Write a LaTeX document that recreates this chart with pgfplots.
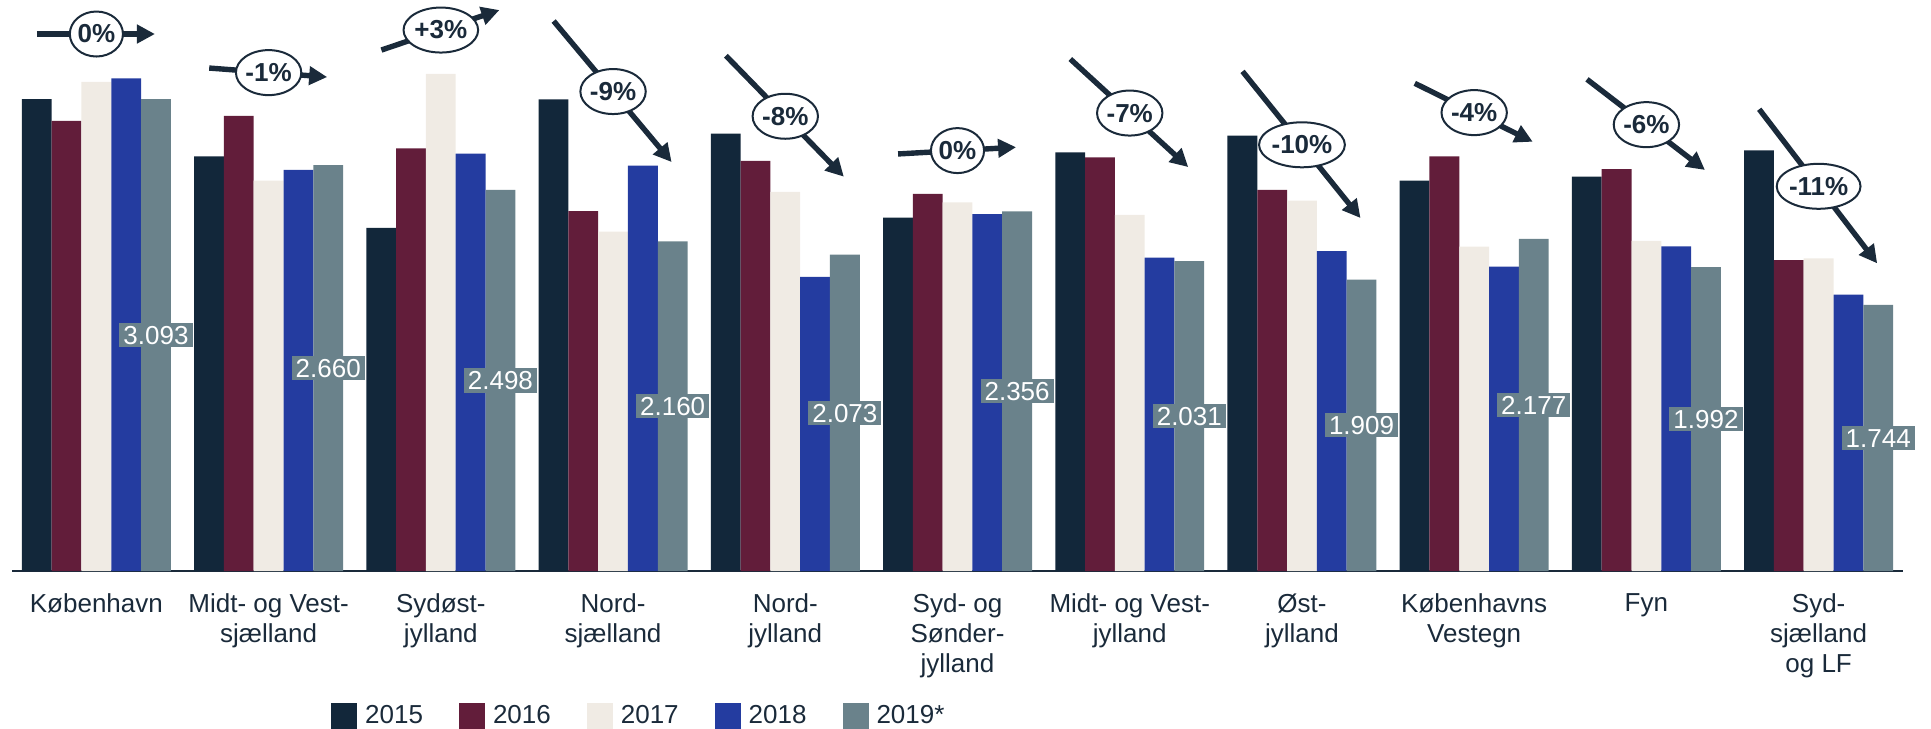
\documentclass[border=0pt]{standalone}
\usepackage{fontspec}
\setmainfont{Liberation Sans}
\usepackage{pgfplots}
\pgfplotsset{compat=1.18}
\usepackage{pgfplotstable}
\usetikzlibrary{arrows.meta,shapes.geometric}

\definecolor{c15}{HTML}{12273A}
\definecolor{c16}{HTML}{621D3A}
\definecolor{c17}{HTML}{F0EBE4}
\definecolor{c18}{HTML}{243CA0}
\definecolor{c19}{HTML}{6A828B}
\definecolor{txt}{HTML}{1A2A3A}

\pgfplotstableread{
x a b c d e
0 3093 2949 3206 3229 3093
1 2717 2982 2558 2628 2660
2 2248 2770 3257 2735 2498
3 3091 2359 2224 2656 2160
4 2866 2687 2484 1927 2073
5 2315 2471 2416 2339 2356
6 2744 2711 2333 2053 2031
7 2853 2497 2427 2097 1909
8 2558 2717 2125 1994 2177
9 2584 2634 2163 2128 1992
10 2757 2038 2049 1811 1744
}\data

\tikzset{
  trend/.style={draw=txt, line width=2.7pt, -{Triangle[length=9pt,width=9pt]}},
  pct/.style={ellipse, draw=txt, line width=1pt, fill=white, inner sep=0pt,
    minimum height=22.5pt, text=txt, font=\bfseries\fontsize{13}{15}\selectfont}
}

\begin{document}
\begin{tikzpicture}[font=\fontsize{13}{15}\selectfont]
\path[use as bounding box] (0,0) rectangle (965.5pt,364pt);
\begin{axis}[
  at={(6pt,78.5pt)}, anchor=south west,
  scale only axis, width=945.5pt, height=285.5pt,
  xmin=-0.49, xmax=10.49, ymin=0, ymax=3742,
  ybar=0pt, bar width=0.173,
  axis x line*=bottom, axis y line=none,
  axis line style={txt, line width=1pt, -},
  xtick={0,...,10},
  xticklabels={K{\o}benhavn, {Midt- og Vest-\\sj{\ae}lland}, {Syd{\o}st-\\jylland},
    {Nord-\\sj{\ae}lland}, {Nord-\\jylland}, {Syd- og\\S{\o}nder-\\jylland},
    {Midt- og Vest-\\jylland}, {{\O}st-\\jylland}, {K{\o}benhavns\\Vestegn}, Fyn,
    {Syd-\\sj{\ae}lland\\og LF}},
  xticklabel style={align=center, text=txt, anchor=north, yshift=-8pt,
    font=\fontsize{13}{15}\selectfont},
  major tick length=0pt,
  ytick=\empty,
  clip=false,
  legend columns=5,
  legend style={draw=none, fill=none, at={(0.332,-0.254)}, anchor=center,
    font=\fontsize{13}{16}\selectfont, text=txt, inner sep=0pt,
    /tikz/every even column/.append style={column sep=16pt},
    /tikz/every odd column/.append style={column sep=2pt}},
  legend image code/.code={\fill[#1] (0pt,-6.75pt) rectangle (13pt,6.75pt);},
]
\addplot[fill=c15, draw=none, bar shift=-0.346] table[x=x,y=a]{\data};
\addplot[fill=c16, draw=none, bar shift=-0.173] table[x=x,y=b]{\data};
\addplot[fill=c17, draw=none, bar shift=0] table[x=x,y=c]{\data};
\addplot[fill=c18, draw=none, bar shift=0.173] table[x=x,y=d]{\data};
\addplot[fill=c19, draw=none, bar shift=0.346] table[x=x,y=e]{\data};
\legend{2015,2016,2017,2018,2019*}
\addplot[forget plot, draw=none, fill=none, bar shift=0.346,
  point meta=explicit,
  nodes near coords={\pgfmathprintnumber[fixed,precision=0,1000 sep={.},assume math mode=true]{\pgfplotspointmeta}},
  nodes near coords align=center,
  every node near coord/.append style={anchor=center, fill=c19, text=white,
    inner xsep=2pt, inner ysep=1.4pt, text height=9.3pt, text depth=0pt,
    font=\fontsize{13}{15}\selectfont}]
  table[x=x, y expr=\thisrow{e}/2, meta=e]{\data};

\draw[trend] (axis cs:-0.345,3519) -- (axis cs:0.34,3519);
\node[pct] at (axis cs:0,3519) {0\%};
\draw[trend] (axis cs:0.655,3296) -- (axis cs:1.34,3237);
\node[pct] at (axis cs:1,3266) {-1\%};
\draw[trend] (axis cs:1.655,3414) -- (axis cs:2.34,3676);
\node[pct] at (axis cs:2,3545) {+3\%};
\draw[trend] (axis cs:2.655,3604) -- (axis cs:3.34,2680);
\node[pct] at (axis cs:3,3142) {-9\%};
\draw[trend] (axis cs:3.655,3377) -- (axis cs:4.34,2584);
\node[pct] at (axis cs:4,2980) {-8\%};
\draw[trend] (axis cs:4.655,2733) -- (axis cs:5.34,2777);
\node[pct] at (axis cs:5,2755) {0\%};
\draw[trend] (axis cs:5.655,3355) -- (axis cs:6.34,2647);
\node[pct] at (axis cs:6,3001) {-7\%};
\draw[trend] (axis cs:6.655,3274) -- (axis cs:7.34,2313);
\node[pct] at (axis cs:7,2793) {-10\%};
\draw[trend] (axis cs:7.655,3196) -- (axis cs:8.34,2813);
\node[pct] at (axis cs:8,3004) {-4\%};
\draw[trend] (axis cs:8.655,3222) -- (axis cs:9.34,2628);
\node[pct] at (axis cs:9,2925) {-6\%};
\draw[trend] (axis cs:9.655,3026) -- (axis cs:10.34,2016);
\node[pct] at (axis cs:10,2521) {-11\%};
\end{axis}
\end{tikzpicture}
\end{document}
